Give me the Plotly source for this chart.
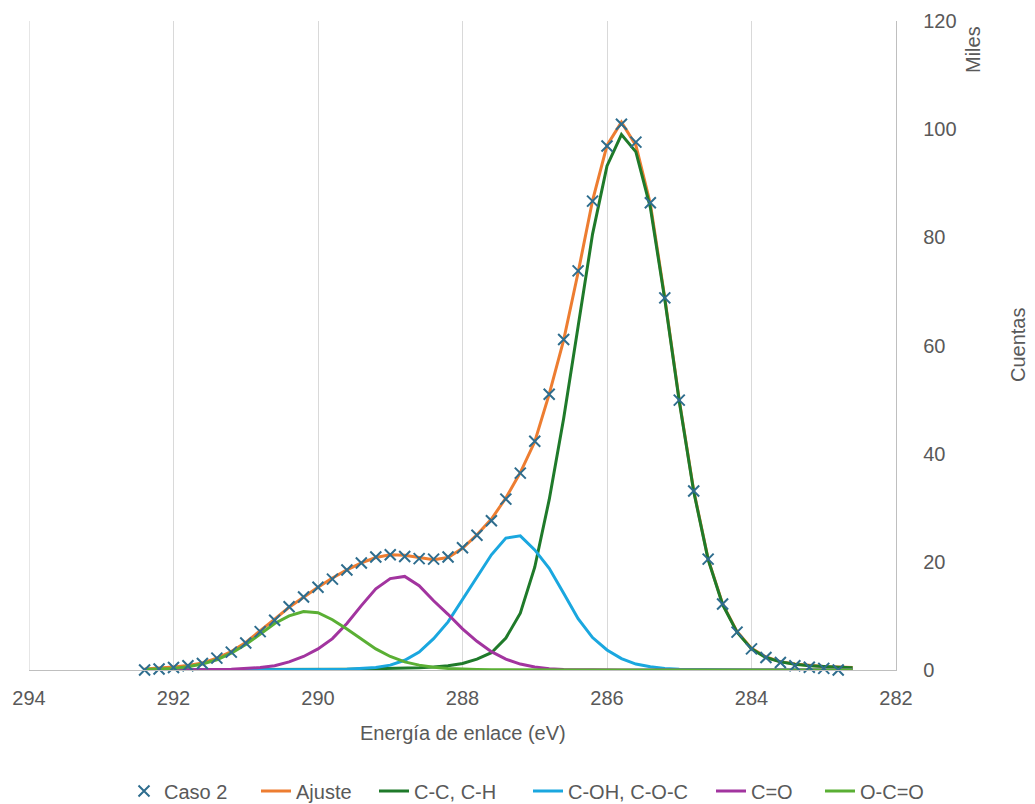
import plotly.graph_objects as go

# Binding energy grid (eV) for the fitted curves
energia_ajuste = [292.4, 292.2, 292.0, 291.8, 291.6, 291.4, 291.2, 291.0, 290.8, 290.6,
                  290.4, 290.2, 290.0, 289.8, 289.6, 289.4, 289.2, 289.0, 288.8, 288.6,
                  288.4, 288.2, 288.0, 287.8, 287.6, 287.4, 287.2, 287.0, 286.8, 286.6,
                  286.4, 286.2, 286.0, 285.8, 285.6, 285.4, 285.2, 285.0, 284.8, 284.6,
                  284.4, 284.2, 284.0, 283.8, 283.6, 283.4, 283.2, 283.0, 282.8, 282.6]

# Measured points (Caso 2), thousands of counts
energia_caso2 = energia_ajuste[:-1]
caso2 = [0.0, 0.2, 0.45, 0.8, 1.2, 2.2, 3.3, 5.0, 7.1, 9.2,
         11.7, 13.5, 15.3, 16.8, 18.5, 19.8, 20.9, 21.3, 21.0, 20.6,
         20.5, 20.9, 22.6, 24.9, 27.6, 31.6, 36.4, 42.3, 51.0, 61.1,
         73.8, 86.7, 96.9, 100.9, 97.6, 86.4, 68.8, 49.9, 33.1, 20.5,
         12.2, 7.0, 3.9, 2.3, 1.4, 0.8, 0.5, 0.3, 0.0]

# Total fit (Ajuste)
ajuste = [0.2, 0.35, 0.55, 0.85, 1.3, 2.2, 3.4, 5.1, 7.2, 9.4,
          11.6, 13.5, 15.3, 17.0, 18.5, 19.8, 20.8, 21.3, 21.2, 20.8,
          20.4, 20.8, 22.5, 25.0, 27.9, 31.8, 36.5, 42.2, 51.0, 61.0,
          73.5, 86.8, 97.0, 101.3, 97.0, 86.2, 68.8, 49.9, 33.2, 20.5,
          12.2, 7.1, 4.0, 2.4, 1.55, 1.1, 0.85, 0.65, 0.55, 0.45]

# Component C-C, C-H
cc_ch = [0.03, 0.03, 0.04, 0.04, 0.05, 0.05, 0.06, 0.07, 0.07, 0.08,
         0.09, 0.1, 0.1, 0.12, 0.15, 0.18, 0.22, 0.27, 0.33, 0.42,
         0.55, 0.8, 1.2, 2.0, 3.2, 5.9, 10.5, 19.0, 31.5, 46.5,
         63.5, 80.6, 93.2, 99.0, 95.8, 85.5, 68.5, 49.7, 33.0, 20.4,
         12.1, 7.0, 3.9, 2.3, 1.5, 1.05, 0.8, 0.6, 0.5, 0.4]

# Component C-OH, C-O-C
coh_coc = [0.0, 0.0, 0.0, 0.0, 0.0, 0.01, 0.01, 0.02, 0.02, 0.03,
           0.04, 0.05, 0.06, 0.1, 0.15, 0.25, 0.45, 0.9, 1.8, 3.3,
           5.8, 8.9, 13.0, 17.3, 21.3, 24.4, 24.8, 22.2, 18.8, 14.2,
           9.5, 6.0, 3.7, 2.1, 1.1, 0.6, 0.3, 0.15, 0.1, 0.05,
           0.03, 0.02, 0.01, 0.0, 0.0, 0.0, 0.0, 0.0, 0.0, 0.0]

# Component C=O
c_o = [0.0, 0.0, 0.0, 0.0, 0.05, 0.1, 0.15, 0.25, 0.45, 0.8,
       1.5, 2.5, 3.9, 5.8, 8.6, 11.9, 15.0, 16.9, 17.3, 15.6,
       12.8, 10.3, 7.6, 5.3, 3.4, 2.0, 1.1, 0.55, 0.25, 0.1,
       0.05, 0.02, 0.0, 0.0, 0.0, 0.0, 0.0, 0.0, 0.0, 0.0,
       0.0, 0.0, 0.0, 0.0, 0.0, 0.0, 0.0, 0.0, 0.0, 0.0]

# Component O-C=O
oco = [0.1, 0.2, 0.3, 0.6, 1.1, 1.9, 3.1, 4.7, 6.6, 8.6,
       10.0, 10.8, 10.6, 9.3, 7.6, 5.7, 3.9, 2.5, 1.5, 0.9,
       0.5, 0.3, 0.15, 0.1, 0.05, 0.02, 0.0, 0.0, 0.0, 0.0,
       0.0, 0.0, 0.0, 0.0, 0.0, 0.0, 0.0, 0.0, 0.0, 0.0,
       0.0, 0.0, 0.0, 0.0, 0.0, 0.0, 0.0, 0.0, 0.0, 0.0]

x_ticks = [294, 292, 290, 288, 286, 284, 282]
y_ticks = [0, 20, 40, 60, 80, 100, 120]

FONT = "Liberation Sans, Arial, sans-serif"
GREY = "#595959"
FS = 20

W, H = 1035, 804
L, R, T, B = 29, 139, 21, 134

# (name, values, colour, legend left edge in px)
componentes = [
    ("Ajuste", ajuste, "#ED7D31", 256),
    ("C-C, C-H", cc_ch, "#1F7A2A", 374),
    ("C-OH, C-O-C", coh_coc, "#1AA7DF", 528),
    ("C=O", c_o, "#A2349F", 711),
    ("O-C=O", oco, "#5AAF34", 820),
]

fig = go.Figure()
legend_layouts = {}


def legend_box(px_left):
    return dict(orientation="h", x=px_left / W, xref="container", xanchor="left",
                y=1 - 791 / H, yref="container", yanchor="middle",
                font=dict(family=FONT, size=FS, color=GREY),
                bgcolor="rgba(0,0,0,0)", borderwidth=0, itemwidth=30)


for i, (nombre, valores, color, px_left) in enumerate(componentes):
    leg = f"legend{i + 2}"
    legend_layouts[leg] = legend_box(px_left)
    fig.add_trace(go.Scatter(
        x=energia_ajuste, y=valores, name=nombre, mode="lines",
        line=dict(color=color, width=3), cliponaxis=False, legend=leg,
    ))

legend_layouts["legend"] = legend_box(124)
fig.add_trace(go.Scatter(
    x=energia_caso2, y=caso2, name="Caso 2", mode="markers",
    marker=dict(symbol="x-thin", size=11, color="#2E6D8E",
                line=dict(color="#2E6D8E", width=2)),
    cliponaxis=False, legend="legend",
))

fig.update_layout(
    width=W, height=H,
    margin=dict(l=L, r=R, t=T, b=B, autoexpand=False),
    paper_bgcolor="white", plot_bgcolor="white",
    font=dict(family=FONT, size=FS, color=GREY),
    showlegend=True,
    xaxis=dict(range=[294, 282], tickvals=x_ticks, ticktext=[str(v) for v in x_ticks],
               showgrid=True, gridcolor="#D9D9D9", gridwidth=1.3,
               showline=True, linecolor="#BFBFBF", linewidth=1.3,
               zeroline=False, ticks="", ticklabelstandoff=10,
               tickfont=dict(size=FS, color=GREY)),
    yaxis=dict(range=[0, 120], tickvals=y_ticks, side="right",
               showgrid=False, showline=True, linecolor="#BFBFBF", linewidth=1.3,
               zeroline=False, ticks="", ticklabelstandoff=22,
               tickfont=dict(size=FS, color=GREY)),
    shapes=[
        # left-edge gridline at 294 eV
        dict(type="line", xref="x", yref="paper", x0=294, x1=294, y0=0, y1=1,
             line=dict(color="#D9D9D9", width=1.3), layer="below"),
    ],
    annotations=[
        dict(text="Energía de enlace (eV)", xref="paper", yref="paper",
             x=(463 - L) / (W - L - R), y=-(733 - (H - B)) / (H - T - B),
             xanchor="center", yanchor="middle", showarrow=False,
             font=dict(size=FS, color=GREY)),
        dict(text="Miles", xref="paper", yref="paper",
             x=(973 - L) / (W - L - R), y=1 - (50 - T) / (H - T - B),
             xanchor="center", yanchor="middle",
             textangle=-90, showarrow=False, font=dict(size=FS, color=GREY)),
        dict(text="Cuentas", xref="paper", yref="paper",
             x=(1018 - L) / (W - L - R), y=1 - (345 - T) / (H - T - B),
             xanchor="center", yanchor="middle",
             textangle=-90, showarrow=False, font=dict(size=FS, color=GREY)),
    ],
    **legend_layouts,
)

fig.write_html("out.html")
